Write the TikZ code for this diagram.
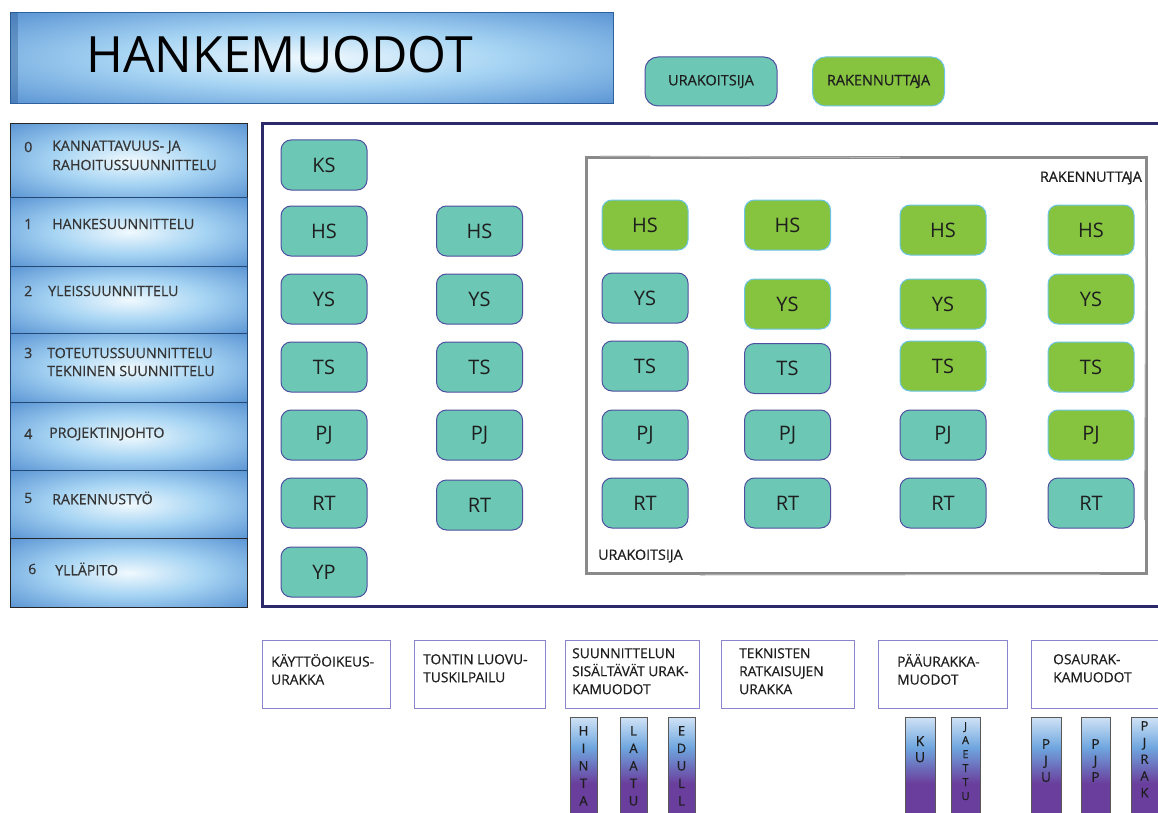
\documentclass[tikz,border=0pt]{standalone}
\usepackage{fontspec}
\setmainfont{Open Sans}
\newfontfamily\medfont{Open Sans}[FakeBold=0.6]

\definecolor{teal1}{HTML}{6CC7B5}
\definecolor{tealline}{HTML}{4F4FA0}
\definecolor{green1}{HTML}{86C440}
\definecolor{greenline}{HTML}{6CC4E6}
\definecolor{navy}{HTML}{2C2A6A}
\definecolor{frameg}{HTML}{8A8A8A}
\definecolor{lilac}{HTML}{8A84CC}
\definecolor{ink}{HTML}{1E1E1E}
\definecolor{glowA}{HTML}{F0F9FE}
\definecolor{glowB}{HTML}{A6D4F3}
\definecolor{glowC}{HTML}{3A79C6}
\definecolor{barTop}{HTML}{EEF5FC}
\definecolor{barMid}{HTML}{6FA6DF}
\definecolor{barBot}{HTML}{6A3E9C}

% soft blue glow used for the title and the stage list
\pgfdeclareradialshading{glow}{\pgfpoint{0bp}{0bp}}{%
  color(0bp)=(glowA); color(16bp)=(glowB); color(44bp)=(glowC); color(72bp)=(glowC)}
% light top, blue middle, purple lower half for the sub-form bars
\pgfdeclareverticalshading{barshade}{100bp}{%
  color(0bp)=(barBot); color(42bp)=(barBot); color(60bp)=(barMid); color(80bp)=(barTop); color(100bp)=(barTop)}

\newcommand{\rkj}{RAKENNUTTA\kern-1.8ptJA}

\tikzset{
  phase/.style={draw=tealline, line width=1pt, fill=teal1, rounded corners=10pt,
    minimum width=86pt, minimum height=50pt, inner sep=0pt, text=ink,
    font=\fontsize{20}{22}\selectfont},
  client/.style={phase, fill=green1, draw=greenline},
  stagebox/.style={draw=#1, line width=0.9pt, shading=glow, anchor=north west,
    minimum width=237pt, inner sep=0pt},
  stagetxt/.style={anchor=west, inner sep=0pt, text=ink!90, font=\medfont\fontsize{14.2}{17}\selectfont},
  formbox/.style={draw=lilac, line width=1.4pt, fill=white, anchor=north west,
    minimum height=68pt, inner sep=0pt},
  formtxt/.style={anchor=north west, inner sep=0pt, align=left, text=ink,
    font=\medfont\fontsize{13.8}{18}\selectfont},
  bar/.style={draw=black!65, line width=1.1pt, anchor=north west, minimum height=100pt,
    inner sep=0pt, shading=barshade},
  bartxt/.style={anchor=north, inner sep=0pt, align=center, text=ink},
  legend/.style={rounded corners=13pt, line width=1pt, minimum width=132pt,
    minimum height=49pt, inner sep=0pt, text=ink, font=\medfont\fontsize{14.5}{16}\selectfont},
  framelbl/.style={inner sep=0pt, text=ink, font=\medfont\fontsize{14.3}{16}\selectfont},
}

\begin{document}
\begin{tikzpicture}[x=1pt,y=-1pt]
\clip (0,0) rectangle (1158,813);
\fill[white] (0,0) rectangle (1158,813);

% title banner
\node[shading=glow, draw=glowC!80!black, line width=0.6pt, anchor=north west,
  minimum width=603pt, minimum height=91pt, inner sep=0pt] (title) at (10,12) {};
\fill[glowC!70!black, opacity=0.35] (10,12) rectangle (18,103);
\node[anchor=base west, inner sep=0pt, font=\fontsize{50}{55}\selectfont, text=black]
  (titletxt) at (86,73) {HANKEMUODOT};

% legend
\node[legend, draw=tealline, fill=teal1] (legU) at (711,81.5) {URAKOITSIJA};
\node[legend, draw=greenline, fill=green1] (legR) at (878.5,81.5) {\rkj};

% stage list
\node[stagebox=black!85, minimum height=74pt] (s0) at (10,123) {};
\node[stagebox=glowC!60!black, minimum height=69pt] (s1) at (10,197) {};
\node[stagebox=glowC!60!black, minimum height=67pt] (s2) at (10,266) {};
\node[stagebox=glowC!60!black, minimum height=69pt] (s3) at (10,333) {};
\node[stagebox=glowC!60!black, minimum height=68pt] (s4) at (10,402) {};
\node[stagebox=glowC!60!black, minimum height=68pt] (s5) at (10,470) {};
\node[stagebox=black!85, minimum height=69pt] (s6) at (10,538) {};

\node[stagetxt] (n0) at (24,147) {0};
\node[stagetxt] (t0a) at (52,147) {KANNATTAVUUS- JA};
\node[stagetxt] (t0b) at (52,165) {RAHOITUSSUUNNITTELU};
\node[stagetxt] (n1) at (24,224) {1};
\node[stagetxt] (t1) at (52,224) {HANKESUUNNITTELU};
\node[stagetxt] (n2) at (24,291) {2};
\node[stagetxt] (t2) at (48,291) {YLEISSUUNNITTELU};
\node[stagetxt] (n3) at (24,353) {3};
\node[stagetxt] (t3a) at (47,353) {TOTEUTUSSUUNNITTELU};
\node[stagetxt] (t3b) at (47,371) {TEKNINEN SUUNNITTELU};
\node[stagetxt] (n4) at (24,434) {4};
\node[stagetxt] (t4) at (49,434) {PROJEKTINJOHTO};
\node[stagetxt] (n5) at (24,498) {5};
\node[stagetxt] (t5) at (52,498) {RAKENNUSTYÖ};
\node[stagetxt] (n6) at (28,569) {6};
\node[stagetxt] (t6) at (55,569) {YLLÄPITO};

% main frame
\draw[navy, line width=3pt] (1170,124) -- (262,124) -- (262,606) -- (1170,606);

% client-side frame
\draw[frameg, line width=3pt] (586,158) -- (1146,158) -- (1146,573) -- (586,573) -- cycle;
\draw[frameg!60, line width=1pt] (600,156) -- (900,157.5) (1146,200) -- (1144.5,520)
  (700,575) -- (1100,574.5);
\node[framelbl, anchor=east] (lblR) at (1142,178) {\rkj};
\node[framelbl, anchor=west] (lblU) at (598,556) {URAKOITSIJA};

% column 1
\node[phase] (a1) at (324,165) {KS};
\node[phase] (a2) at (324,231) {HS};
\node[phase] (a3) at (324,299) {YS};
\node[phase] (a4) at (324,367) {TS};
\node[phase] (a5) at (324,435) {PJ};
\node[phase] (a6) at (324,503) {RT};
\node[phase] (a7) at (324,572) {YP};
% column 2
\node[phase] (b2) at (479.5,231) {HS};
\node[phase] (b3) at (479.5,299) {YS};
\node[phase] (b4) at (479.5,367) {TS};
\node[phase] (b5) at (479.5,435) {PJ};
\node[phase] (b6) at (479.5,505) {RT};
% column 3
\node[client] (c2) at (645,225) {HS};
\node[phase] (c3) at (645,298) {YS};
\node[phase] (c4) at (645,366) {TS};
\node[phase] (c5) at (645,435) {PJ};
\node[phase] (c6) at (645,503) {RT};
% column 4
\node[client] (d2) at (787.5,225) {HS};
\node[client] (d3) at (787.5,304) {YS};
\node[phase] (d4) at (787.5,368.5) {TS};
\node[phase] (d5) at (787.5,435) {PJ};
\node[phase] (d6) at (787.5,503) {RT};
% column 5
\node[client] (e2) at (943,230) {HS};
\node[client] (e3) at (943,304) {YS};
\node[client] (e4) at (943,366) {TS};
\node[phase] (e5) at (943,435) {PJ};
\node[phase] (e6) at (943,503) {RT};
% column 6
\node[client] (f2) at (1091,230) {HS};
\node[client] (f3) at (1091,299) {YS};
\node[client] (f4) at (1091,367) {TS};
\node[client] (f5) at (1091,435) {PJ};
\node[phase] (f6) at (1091,503) {RT};

% contract forms
\node[formbox, minimum width=128pt] (k1) at (262,640) {};
\node[formbox, minimum width=131pt] (k2) at (414,640) {};
\node[formbox, minimum width=134pt] (k3) at (565,640) {};
\node[formbox, minimum width=133pt] (k4) at (721,640) {};
\node[formbox, minimum width=129pt] (k5) at (878,640) {};
\node[formbox, minimum width=140pt] (k6) at (1031,640) {};

\node[formtxt] (k1t) at (271,654) {KÄYTTÖOIKEUS-\\URAKKA};
\node[formtxt] (k2t) at (423,654) {TONTIN LUOVU-\\TUSKILPAILU};
\node[formtxt] (k3t) at (572,648) {SUUNNITTELUN\\SISÄLTÄVÄT URAK-\\KAMUODOT};
\node[formtxt] (k4t) at (739,648) {TEKNISTEN\\RATKAISUJEN\\URAKKA};
\node[formtxt] (k5t) at (897,654) {PÄÄURAKKA-\\MUODOT};
\node[formtxt] (k6t) at (1053,654) {OSAURAK-\\KAMUODOT};

% sub-form bars
\node[bar, minimum width=27pt] (h1) at (570,717) {};
\node[bar, minimum width=27pt] (h2) at (620,717) {};
\node[bar, minimum width=27pt] (h3) at (668,717) {};
\node[bar, minimum width=30pt] (h4) at (905,717) {};
\node[bar, minimum width=29pt] (h5) at (951,717) {};
\node[bar, minimum width=30pt] (h6) at (1031,717) {};
\node[bar, minimum width=29pt] (h7) at (1081,717) {};
\node[bar, minimum width=29pt] (h8) at (1131,717) {};

\node[bartxt, font=\medfont\fontsize{13}{17.5}\selectfont] (h1t) at (583.5,726) {H\\I\\N\\T\\A};
\node[bartxt, font=\medfont\fontsize{13}{17.5}\selectfont] (h2t) at (633.5,726) {L\\A\\A\\T\\U};
\node[bartxt, font=\medfont\fontsize{13}{17.5}\selectfont] (h3t) at (681.5,726) {E\\D\\U\\L\\L};
\node[bartxt, font=\medfont\fontsize{14}{16}\selectfont] (h4t) at (920,736) {K\\U};
\node[bartxt, font=\medfont\fontsize{11}{14}\selectfont] (h5t) at (965.5,722) {J\\A\\E\\T\\T\\U};
\node[bartxt, font=\medfont\fontsize{13.5}{16.5}\selectfont] (h6t) at (1046,739) {P\\J\\U};
\node[bartxt, font=\medfont\fontsize{13.5}{16.5}\selectfont] (h7t) at (1095.5,739) {P\\J\\P};
\node[bartxt, font=\medfont\fontsize{13}{16.7}\selectfont] (h8t) at (1144.5,721) {P\\J\\R\\A\\K};
\end{tikzpicture}
\end{document}
